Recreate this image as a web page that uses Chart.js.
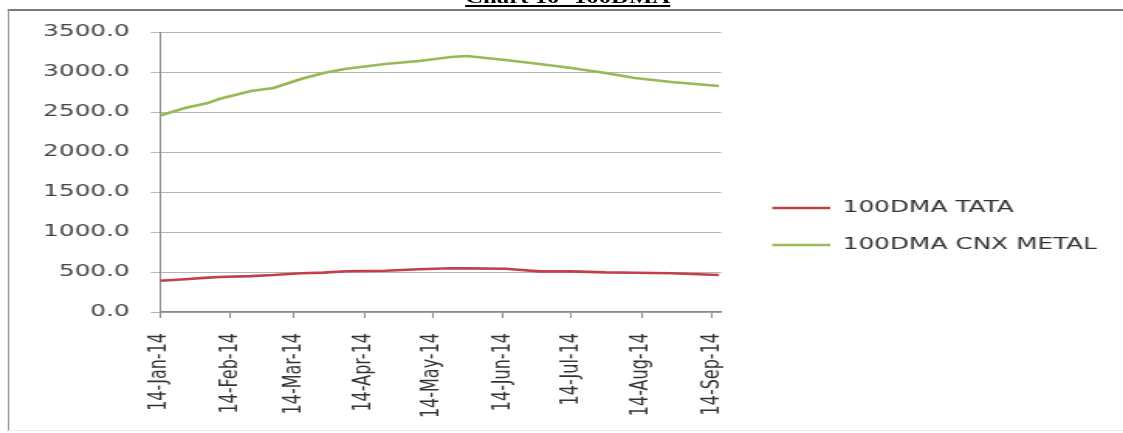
<!DOCTYPE html>
<html>
<head>
<meta charset="utf-8">
<script src="https://cdn.jsdelivr.net/npm/chart.js@4.4.1/dist/chart.umd.min.js"></script>
<style>
  html, body { margin: 0; padding: 0; background: #fff; overflow: hidden; }
  /* the whole figure is laid out narrow and stretched sideways */
  #page { position: absolute; left: 0; top: 0; width: 725px; height: 433px;
          transform: scaleX(1.549); transform-origin: 0 0; }
  #title { position: absolute; left: 0; width: 733px; top: -10px; text-align: center;
           font: bold 16px "Liberation Serif", "Times New Roman", serif; line-height: 16px;
           text-decoration: underline; text-decoration-thickness: 2px; text-underline-offset: 2px;
           color: #000; white-space: nowrap; }
  #frame { position: absolute; left: 4.5px; top: 9px; width: 740px; height: 419px;
           border-left: 1.4px solid #9a9a9a; border-top: 2px solid #7a7a7a;
           border-bottom: 1px solid #ececec; }
  #wrap { position: absolute; left: 0; top: 0; width: 725px; height: 433px; }
</style>
</head>
<body>
<div id="page">
  <div id="title">Chart 10- 100DMA</div>
  <div id="frame"></div>
  <div id="wrap"><canvas id="dmaChart"></canvas></div>
</div>
<script>
const dates = ['2014-01-14', '2014-01-25', '2014-02-04', '2014-02-09', '2014-02-23',
               '2014-03-05', '2014-03-17', '2014-03-27', '2014-04-06', '2014-04-23',
               '2014-05-08', '2014-05-22', '2014-05-29', '2014-06-15', '2014-06-30',
               '2014-07-14', '2014-07-29', '2014-08-11', '2014-08-27', '2014-09-17'];
const tata = [390, 410, 430, 438, 448, 462, 485, 492, 510, 516,
              535, 546, 545, 540, 508, 508, 495, 490, 485, 462];
const cnxMetal = [2455, 2550, 2612, 2662, 2762, 2800, 2912, 2987, 3040, 3100,
                  3137, 3187, 3200, 3150, 3100, 3050, 2987, 2925, 2875, 2825];

const tickDates = ['2014-01-14', '2014-02-14', '2014-03-14', '2014-04-14', '2014-05-14',
                   '2014-06-14', '2014-07-14', '2014-08-14', '2014-09-14'];
const tickLabels = ['14-Jan-14', '14-Feb-14', '14-Mar-14', '14-Apr-14', '14-May-14',
                    '14-Jun-14', '14-Jul-14', '14-Aug-14', '14-Sep-14'];
const axisEnd = '2014-09-18';

// days since the first date, used as the x value
function dayOf(d) {
  return (Date.parse(d) - Date.parse(dates[0])) / 86400000;
}

function toPoints(values) {
  return dates.map((d, i) => ({ x: dayOf(d), y: values[i] }));
}

const font = { family: 'DejaVu Sans', size: 16 };

// moves the legend block away from the plot a little
const legendNudge = {
  id: 'legendNudge',
  afterLayout(chart) {
    const lg = chart.legend;
    lg.left += 12; lg.right += 12;
    lg.top -= 6; lg.bottom -= 6;
  }
};

const canvas = document.getElementById('dmaChart');

const chart = new Chart(canvas, {
  type: 'line',
  data: {
    datasets: [
      {
        label: '100DMA TATA',
        data: toPoints(tata),
        borderColor: '#C2404A',
        borderWidth: 2.6,
        pointRadius: 0,
        tension: 0,
      },
      {
        label: '100DMA CNX METAL',
        data: toPoints(cnxMetal),
        borderColor: '#98B954',
        borderWidth: 2.6,
        pointRadius: 0,
        tension: 0,
      },
    ],
  },
  options: {
    animation: false,
    responsive: true,
    maintainAspectRatio: false,
    layout: { padding: { top: 32, right: 18.8, bottom: 0, left: 0 } },
    plugins: {
      legend: {
        position: 'right',
        maxWidth: 320,
        labels: {
          usePointStyle: true,
          pointStyle: 'line',
          pointStyleWidth: 37.4,
          padding: 21,
          color: '#333',
          font: font,
        },
      },
      tooltip: { enabled: false },
    },
    scales: {
      x: {
        type: 'linear',
        min: 0,
        max: dayOf(axisEnd),
        afterBuildTicks: (scale) => {
          scale.ticks = tickDates.map(d => ({ value: dayOf(d) }));
        },
        afterFit: (scale) => { scale.height = 121; },
        ticks: {
          autoSkip: false,
          minRotation: 90,
          maxRotation: 90,
          padding: 15,
          color: '#333',
          font: font,
          callback: (v, i) => tickLabels[i],
        },
        grid: { drawOnChartArea: false, tickLength: 6, color: '#8a8a8a' },
        border: { color: '#8a8a8a', width: 1.5 },
      },
      y: {
        min: 0,
        max: 3500,
        afterFit: (scale) => { scale.width = 103.3; },
        ticks: {
          stepSize: 500,
          padding: 13.5,
          color: '#444',
          font: font,
          callback: (v) => v.toFixed(1),
        },
        grid: { color: '#b4b4b4', tickLength: 6 },
        border: { color: '#8a8a8a' },
      },
    },
  },
  plugins: [legendNudge],
});
</script>
</body>
</html>
